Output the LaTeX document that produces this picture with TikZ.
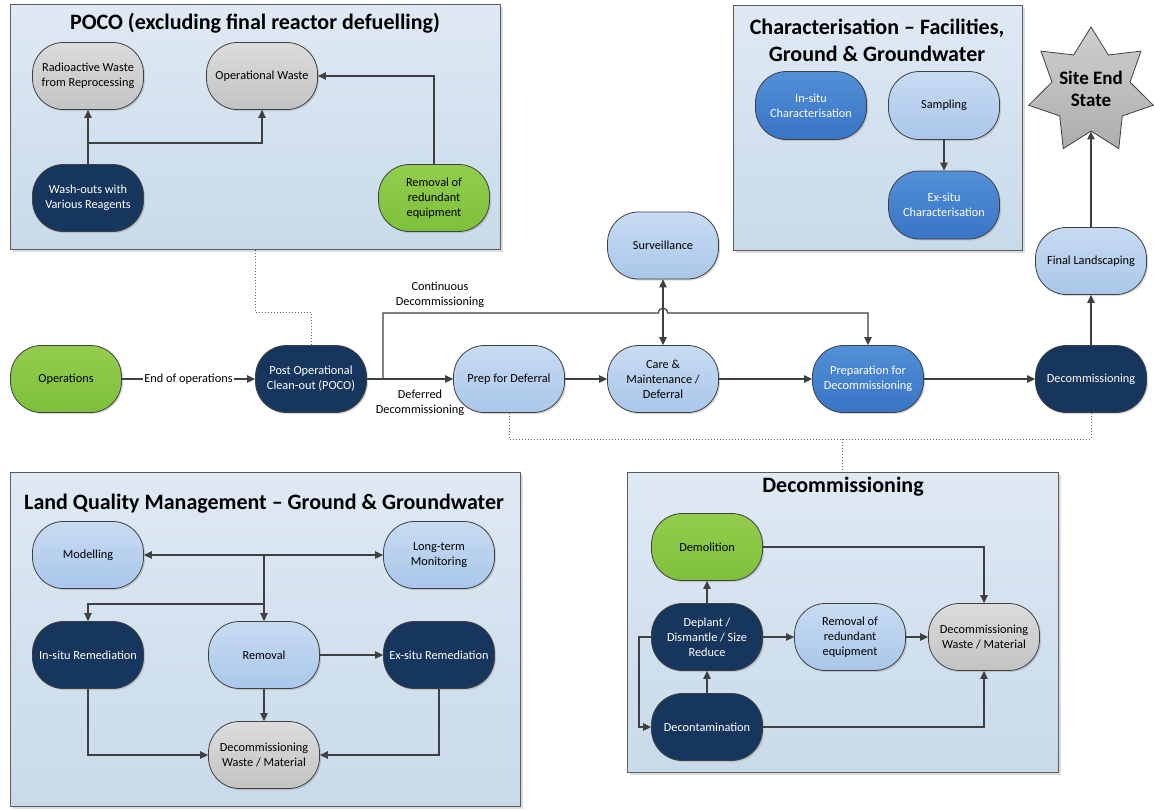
\documentclass[tikz,border=0pt]{standalone}
\usepackage{fontspec}
\setmainfont{Carlito}
\usetikzlibrary{shapes.geometric,arrows.meta,shadows,calc}
\definecolor{ln}{HTML}{404040}
\definecolor{bxtop}{HTML}{DFE9F4}
\definecolor{bxbot}{HTML}{C8DAEA}
\definecolor{lbtop}{HTML}{C8DBF2}
\definecolor{lbbot}{HTML}{A9C7EA}
\definecolor{mbtop}{HTML}{5290D6}
\definecolor{mbbot}{HTML}{3974C6}
\definecolor{navy}{HTML}{17365D}
\definecolor{grtop}{HTML}{94CD4E}
\definecolor{grbot}{HTML}{7DC03B}
\definecolor{gytop}{HTML}{DCDCDC}
\definecolor{gybot}{HTML}{C3C3C3}
\definecolor{sttop}{HTML}{CFCFCF}
\definecolor{stbot}{HTML}{ADADAD}
\newcommand\nfont{\fontsize{12.3}{15}\selectfont}
\newcommand\tfont{\fontsize{22}{27}\selectfont\bfseries}
\begin{document}
\begin{tikzpicture}[x=1pt,y=-1pt,
  panel/.style={draw=ln!85, line width=1pt, top color=bxtop, bottom color=bxbot,
     drop shadow={shadow xshift=3pt, shadow yshift=-3pt, fill=gray!45, opacity=0.6}},
  pill/.style={draw=ln, line width=0.8pt, rounded corners=31pt, minimum width=111pt,
     minimum height=67pt, align=center, font=\nfont, inner sep=2pt,
     drop shadow={shadow xshift=1.5pt, shadow yshift=-1.5pt, fill=gray, opacity=0.3}},
  lb/.style={pill, top color=lbtop, bottom color=lbbot, text=black},
  mb/.style={pill, top color=mbtop, bottom color=mbbot, text=white},
  nv/.style={pill, fill=navy, text=white},
  gr/.style={pill, top color=grtop, bottom color=grbot, text=black},
  gy/.style={pill, top color=gytop, bottom color=gybot, text=black},
  arr/.style={draw=ln, line width=1.2pt, -{Triangle[length=8pt,width=7.5pt]}},
  arrb/.style={draw=ln, line width=1.2pt, {Triangle[length=8pt,width=7.5pt]}-{Triangle[length=8pt,width=7.5pt]}},
  dotl/.style={draw=ln!80, line width=1pt, dotted},
  ttl/.style={font=\tfont, align=center, inner sep=0pt},
  lbl/.style={font=\nfont, align=center, inner sep=1pt}
]
\useasboundingbox (0,0) rectangle (1154,809);
\fill[white] (0,0) rectangle (1154,809);

% ---------- panels ----------
\node[panel, minimum width=490pt, minimum height=245pt] (pocobox) at (255,126.5) {};
\node[panel, minimum width=289pt, minimum height=245pt] (charbox) at (877.5,127.5) {};
\node[panel, minimum width=510pt, minimum height=334pt] (lqbox) at (265,639) {};
\node[panel, minimum width=431pt, minimum height=300pt] (decbox) at (842.5,622) {};

\node[ttl] (pocot) at (255,23) {POCO (excluding final reactor defuelling)};
\node[ttl] (chart) at (877,40) {Characterisation – Facilities,\\Ground \& Groundwater};
\node[ttl] (lqt) at (264,504) {Land Quality Management – Ground \& Groundwater};
\node[ttl] (dect) at (843,487) {Decommissioning};

% ---------- POCO panel ----------
\node[gy] (radw) at (88,76) {Radioactive Waste\\from Reprocessing};
\node[gy] (opw) at (262,76) {Operational Waste};
\node[nv] (wash) at (88,198) {Wash-outs with\\Various Reagents};
\node[gr] (remr) at (434,198) {Removal of\\redundant\\equipment};
\coordinate (wj) at (88,143);
\draw[arr] (wash) -- (radw);
\draw[arr] (wj) -| (opw.south);
\draw[arr] (remr.north) |- (opw.east);

% ---------- Characterisation panel ----------
\node[mb, minimum height=68pt] (insc) at (811,105.5) {In-situ\\Characterisation};
\node[lb, minimum height=68pt] (samp) at (944,105.5) {Sampling};
\node[mb, minimum height=68pt] (exsc) at (944,205) {Ex-situ\\Characterisation};
\draw[arr] (samp) -- (exsc);

% ---------- Star and main row ----------
\node[draw=ln, line width=0.8pt, star, star points=7, star point ratio=1.6,
      minimum size=128pt, inner sep=0pt, top color=sttop, bottom color=stbot] (star) at (1091,91) {};
\node[font=\fontsize{19}{22}\selectfont\bfseries, align=center, inner sep=0pt] (startxt) at (1091,89) {Site End\\State};
\node[lb] (flnd) at (1091,261) {Final Landscaping};
\node[lb] (surv) at (663,245.5) {Surveillance};

\node[gr] (ops) at (66,379) {Operations};
\node[nv] (poco) at (311,379) {Post Operational\\Clean-out (POCO)};
\node[lb] (prepdef) at (509,379) {Prep for Deferral};
\node[lb] (care) at (663,379) {Care \&\\Maintenance /\\Deferral};
\node[mb] (prepdec) at (868,379) {Preparation for\\Decommissioning};
\node[nv] (decom) at (1091,379) {Decommissioning};

\draw[arr] (ops) -- node[lbl, fill=white] (eoo) {End of operations} (poco);
\draw[arr] (poco) -- (prepdef);
\node[lbl] (defl) at (420,403) {Deferred\\Decommissioning};
\coordinate (cb) at (383,379);
\coordinate (ct) at (383,313);
\draw[arr] (cb) -- (ct) -- (658.5,313) .. controls (658.5,306.5) and (667.5,306.5) .. (667.5,313) -| (prepdec.north);
\node[lbl] (contl) at (440,294.5) {Continuous\\Decommissioning};
\draw[arrb] (surv) -- (care);
\draw[arr] (prepdef) -- (care);
\draw[arr] (care) -- (prepdec);
\draw[arr] (prepdec) -- (decom);
\draw[arr] (decom) -- (flnd);
\draw[arr] (flnd) -- (star.south);

% ---------- dotted links ----------
\coordinate (dp) at (255,312);
\draw[dotl] (pocobox.south) -- (dp) -| (poco.north);
\coordinate (dl) at (509,439);
\coordinate (dm) at (842.5,439);
\draw[dotl] (prepdef.south) -- (dl) -| (decom.south);
\draw[dotl] (dm) -- (decbox.north);

% ---------- Land Quality panel ----------
\node[lb] (model) at (88,555) {Modelling};
\node[lb] (ltm) at (439,555) {Long-term\\Monitoring};
\node[nv] (insr) at (88,655) {In-situ Remediation};
\node[lb] (remv) at (264,655) {Removal};
\node[nv] (exsr) at (439,655) {Ex-situ Remediation};
\node[gy] (lqw) at (264,755) {Decommissioning\\Waste / Material};
\coordinate (lj) at (264,555);
\coordinate (lj2) at (264,604);
\draw[arr] (lj) -- (model.east);
\draw[arr] (lj) -- (ltm.west);
\draw[arr] (lj) -- (remv.north);
\draw[arr] (lj2) -| (insr.north);
\draw[arr] (remv) -- (exsr);
\draw[arr] (remv) -- (lqw);
\draw[arr] (insr.south) |- (lqw.west);
\draw[arr] (exsr.south) |- (lqw.east);

% ---------- Decommissioning panel ----------
\node[gr] (demo) at (707,547) {Demolition};
\node[nv] (depl) at (707,637) {Deplant /\\Dismantle / Size\\Reduce};
\node[nv] (decon) at (707,727) {Decontamination};
\node[lb] (remd) at (850,637) {Removal of\\redundant\\equipment};
\node[gy] (dw) at (984,637) {Decommissioning\\Waste / Material};
\coordinate (dlp) at (639,637);
\draw[arr] (decon) -- (depl);
\draw[arr] (depl) -- (demo);
\draw[arr] (depl) -- (remd);
\draw[arr] (remd) -- (dw);
\draw[arr] (demo.east) -| (dw.north);
\draw[arr] (decon.east) -| (dw.south);
\draw[arr] (depl.west) -- (dlp) |- (decon.west);
\end{tikzpicture}
\end{document}
